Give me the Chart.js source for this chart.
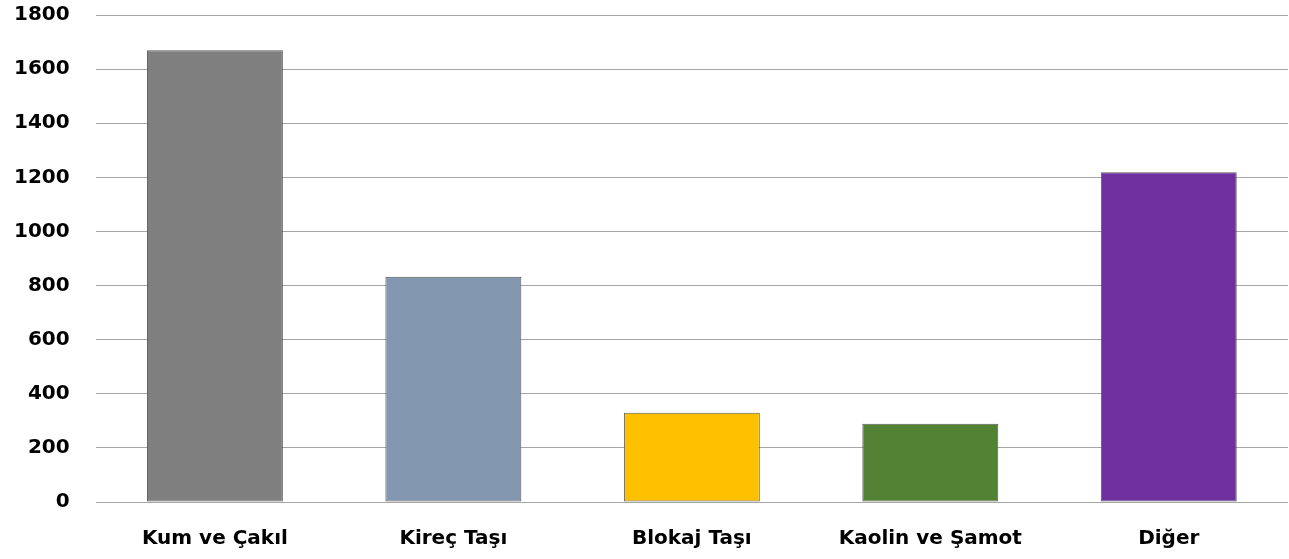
<!DOCTYPE html>
<html>
<head>
<meta charset="utf-8">
<script src="https://cdn.jsdelivr.net/npm/chart.js@4"></script>
<style>
    html, body { margin: 0; padding: 0; background: #fff; }
    #wrap { width: 1289px; height: 559px; }
</style>
</head>
<body>
<div id="wrap"><canvas id="barChart" width="1289" height="559"></canvas></div>
<script>
// Data
const categories = ['Kum ve Çakıl', 'Kireç Taşı', 'Blokaj Taşı', 'Kaolin ve Şamot', 'Diğer'];
const values = [1670, 833, 330, 289, 1219];
const barColors = ['#7f7f7f', '#8497b0', '#ffc000', '#548235', '#7030a0'];
const yTicks = [0, 200, 400, 600, 800, 1000, 1200, 1400, 1600, 1800];

const ctx = document.getElementById('barChart').getContext('2d');
new Chart(ctx, {
    type: 'bar',
    data: {
        labels: categories,
        datasets: [{
            data: values,
            backgroundColor: barColors,
            borderColor: '#595959',
            borderWidth: 1,
            borderSkipped: false,
            barPercentage: 0.57,
            categoryPercentage: 1
        }]
    },
    options: {
        responsive: false,
        animation: false,
        layout: {
            padding: { top: 15, right: 1, left: 14, bottom: -17 }
        },
        plugins: {
            legend: { display: false },
            tooltip: { enabled: false }
        },
        scales: {
            x: {
                grid: { display: false, drawTicks: false },
                border: { display: false },
                ticks: {
                    color: '#000',
                    padding: 25,
                    maxRotation: 0,
                    font: { family: 'DejaVu Sans', size: 20, weight: 'bold' }
                }
            },
            y: {
                min: 0,
                max: 1800,
                afterBuildTicks: axis => {
                    axis.ticks = yTicks.map(v => ({ value: v }));
                },
                grid: {
                    color: '#a6a6a6',
                    lineWidth: 1,
                    drawTicks: true,
                    tickLength: 26,
                    tickColor: 'rgba(0,0,0,0)'
                },
                border: { display: false },
                ticks: {
                    color: '#000',
                    padding: 0,
                    callback: v => String(v),
                    font: { family: 'DejaVu Sans', size: 20, weight: 'bold' }
                }
            }
        }
    }
});
</script>
</body>
</html>
